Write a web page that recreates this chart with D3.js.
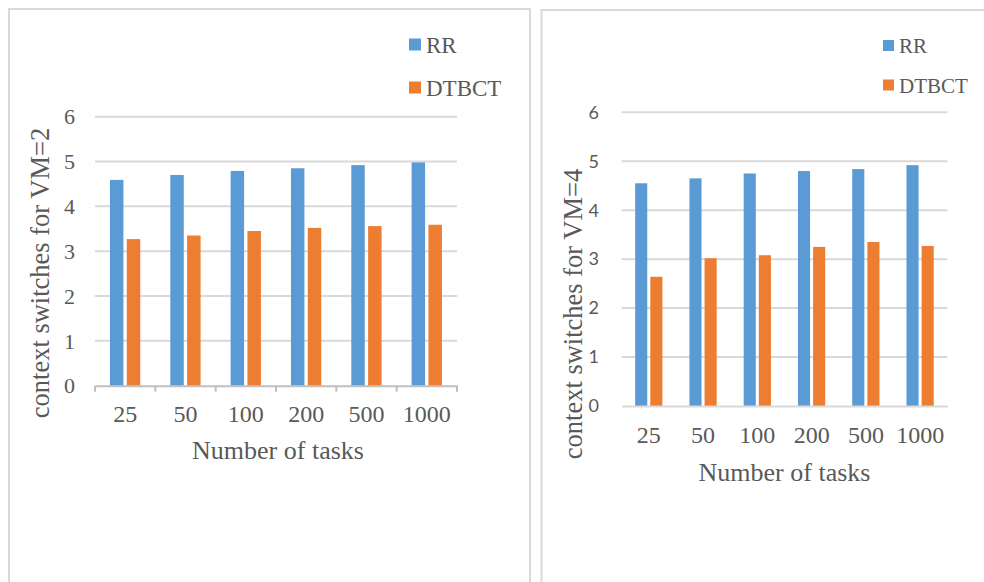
<!DOCTYPE html>
<html>
<head>
<meta charset="utf-8">
<script src="https://cdn.jsdelivr.net/npm/d3@7"></script>
<style>
  html, body { margin: 0; padding: 0; background: #fff; }
  svg { display: block; }
</style>
</head>
<body>
<svg id="chart" width="984" height="582"></svg>
<script>
const categories = ["25", "50", "100", "200", "500", "1000"];
const seriesNames = ["RR", "DTBCT"];
const rrVM2 = [4.59, 4.70, 4.79, 4.85, 4.92, 4.98];
const dtbctVM2 = [3.27, 3.35, 3.45, 3.52, 3.56, 3.59];
const rrVM4 = [4.55, 4.65, 4.75, 4.80, 4.84, 4.92];
const dtbctVM4 = [2.64, 3.02, 3.08, 3.25, 3.35, 3.27];
const yTicks = [0, 1, 2, 3, 4, 5, 6];
const colors = ["#5B9BD5", "#ED7D31"];

const svg = d3.select("#chart");
const textColor = "#595959";
const gridColor = "#D9D9D9";
const serif = "'Liberation Serif', 'Times New Roman', serif";

// panel borders
svg.append("path")
  .attr("d", "M9,583 L9,9 L530,9 L530,583")
  .attr("fill", "none").attr("stroke", gridColor).attr("stroke-width", 2);
svg.append("path")
  .attr("d", "M541.5,583 L541.5,10 L986,10")
  .attr("fill", "none").attr("stroke", gridColor).attr("stroke-width", 2);

function drawChart(cfg) {
  const g = svg.append("g");
  const x = d3.scaleBand().domain(categories).range([cfg.left, cfg.right]);
  const bw = x.bandwidth();
  const x1 = d3.scaleBand().domain(seriesNames)
    .range([bw * 0.248, bw * 0.75]).paddingInner(0.2);
  const y = d3.scaleLinear().domain([0, 6]).range([cfg.bottom, cfg.top]);

  // gridlines
  g.append("g").selectAll("line").data(yTicks.filter(d => d > 0)).join("line")
    .attr("x1", cfg.left).attr("x2", cfg.right)
    .attr("y1", d => y(d)).attr("y2", d => y(d))
    .attr("stroke", gridColor).attr("stroke-width", 2);

  // y tick labels
  g.append("g").selectAll("text").data(yTicks).join("text")
    .attr("x", cfg.yLabelX).attr("y", d => y(d))
    .attr("dy", "0.35em").attr("text-anchor", "end")
    .attr("fill", textColor)
    .style("font-family", cfg.yTickFont).style("font-size", cfg.yTickSize + "px")
    .text(d => d);

  // bars
  const data = cfg.series;
  g.append("g").selectAll("g").data(categories).join("g")
    .attr("transform", c => `translate(${x(c)},0)`)
    .selectAll("rect")
    .data((c, i) => seriesNames.map((s, k) => ({ s, k, v: data[k][i] })))
    .join("rect")
    .attr("x", d => x1(d.s)).attr("width", x1.bandwidth())
    .attr("y", d => y(d.v)).attr("height", d => y(0) - y(d.v))
    .attr("fill", d => colors[d.k]);

  // x axis
  const axis = d3.axisBottom(x).tickSize(0).tickFormat(d => d);
  const ax = g.append("g").attr("transform", `translate(0,${cfg.bottom})`).call(axis);
  ax.select(".domain").attr("stroke", cfg.axisColor).attr("stroke-width", 2);
  ax.selectAll(".tick text")
    .attr("y", cfg.xLabelDy).attr("dy", 0)
    .attr("fill", textColor)
    .style("font-family", serif).style("font-size", "24px");
  if (cfg.tickMarks) {
    g.append("g").selectAll("line").data(categories.concat(["end"])).join("line")
      .attr("x1", (c, i) => cfg.left + i * bw).attr("x2", (c, i) => cfg.left + i * bw)
      .attr("y1", cfg.bottom).attr("y2", cfg.bottom + 6)
      .attr("stroke", cfg.axisColor).attr("stroke-width", 2);
  }

  // axis titles
  g.append("text")
    .attr("x", cfg.xTitleX).attr("y", cfg.xTitleY)
    .attr("text-anchor", "middle").attr("fill", textColor)
    .style("font-family", serif).style("font-size", "26px")
    .text("Number of tasks");
  g.append("text")
    .attr("transform", `translate(${cfg.yTitleX},${cfg.yTitleY}) rotate(-90)`)
    .attr("text-anchor", "middle").attr("fill", textColor)
    .style("font-family", serif).style("font-size", "26.5px")
    .text(cfg.yTitle);

  // legend
  const lg = g.append("g").selectAll("g").data(seriesNames).join("g")
    .attr("transform", (d, i) => `translate(${cfg.legendX},${cfg.legendY[i]})`);
  lg.append("rect").attr("x", 0).attr("y", -cfg.legendSq - 2)
    .attr("width", cfg.legendSq).attr("height", cfg.legendSq)
    .attr("fill", (d, i) => colors[i]);
  lg.append("text").attr("x", cfg.legendSq + 5).attr("y", 0)
    .attr("fill", textColor)
    .style("font-family", serif).style("font-size", cfg.legendSize + "px")
    .text(d => d);
}

drawChart({
  left: 95, right: 457, top: 116.7, bottom: 385.7,
  series: [rrVM2, dtbctVM2],
  yLabelX: 75, yTickFont: serif, yTickSize: 22,
  axisColor: "#BFBFBF", tickMarks: true, xLabelDy: 36,
  xTitleX: 278, xTitleY: 459,
  yTitleX: 49, yTitleY: 273, yTitle: "context switches for VM=2",
  legendX: 409, legendY: [52.5, 95.5], legendSq: 12, legendSize: 23
});

drawChart({
  left: 621.7, right: 947.3, top: 112.3, bottom: 406,
  series: [rrVM4, dtbctVM4],
  yLabelX: 599, yTickFont: "Lato, 'Open Sans', sans-serif", yTickSize: 18,
  axisColor: gridColor, tickMarks: false, xLabelDy: 37,
  xTitleX: 784.5, xTitleY: 481,
  yTitleX: 582, yTitleY: 314, yTitle: "context switches for VM=4",
  legendX: 883, legendY: [53, 92.5], legendSq: 11, legendSize: 21
});
</script>
</body>
</html>
